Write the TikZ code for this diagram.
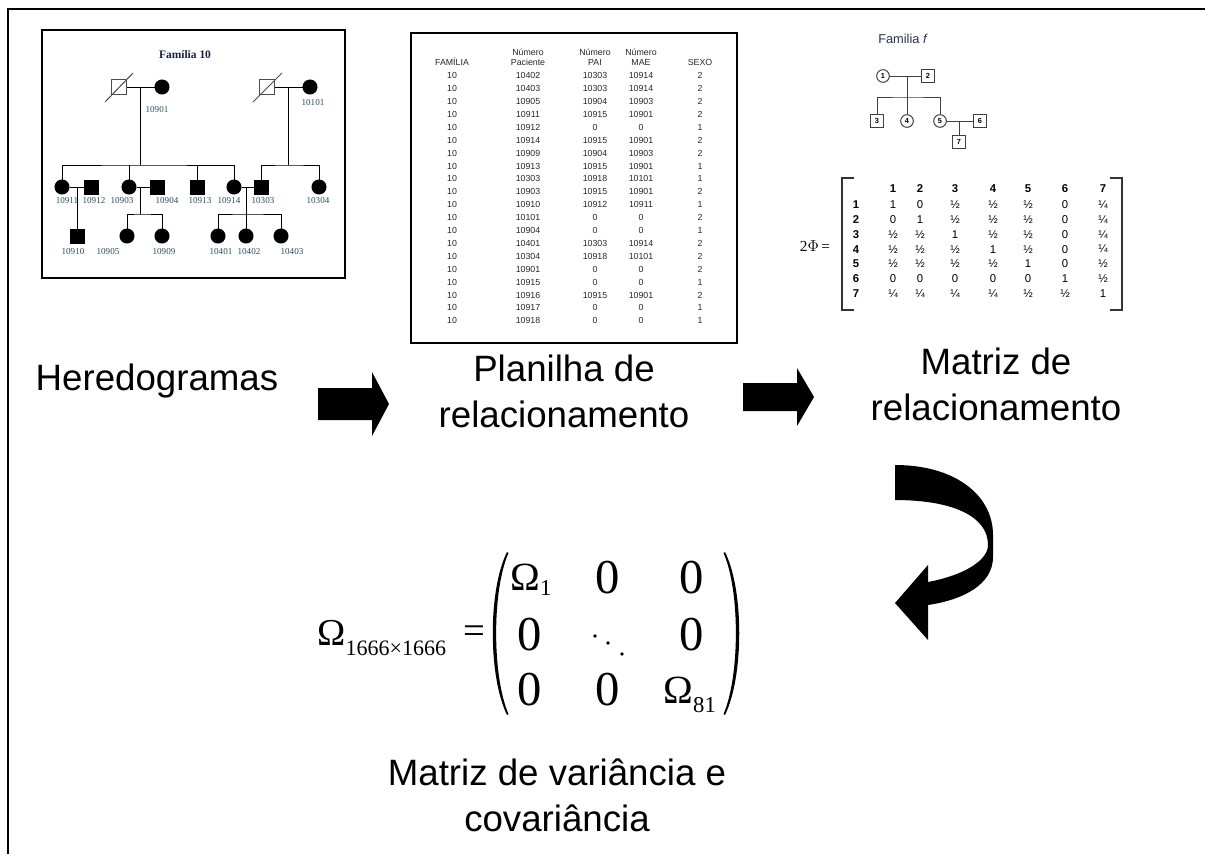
\documentclass[tikz,border=0pt]{standalone}
\usepackage{fontspec}
\setmainfont{Liberation Sans}
\newfontfamily\serifrm{Liberation Serif}
\definecolor{pedlbl}{RGB}{35,80,90}
\definecolor{titnavy}{RGB}{25,30,70}

\tikzset{every picture/.style={line width=0.75pt}}
\tikzset{
  malesym/.style={draw, fill=black, minimum size=10.5pt, inner sep=0pt},
  femsym/.style={draw, fill=black, circle, minimum size=10.5pt, inner sep=0pt},
  deadsym/.style={draw=black!70, fill=white, minimum size=11pt, inner sep=0pt},
  pedlabel/.style={font=\serifrm\fontsize{6.8}{7}\selectfont, text=pedlbl, inner sep=0.75pt},
  fmale/.style={draw=black!75, minimum size=9.5pt, inner sep=0pt, font=\bfseries\fontsize{5.5}{5.5}\selectfont},
  ffem/.style={draw=black!75, circle, minimum size=9.5pt, inner sep=0pt, font=\bfseries\fontsize{5.5}{5.5}\selectfont},
  tabtxt/.style={font=\fontsize{6.6}{7}\selectfont, inner sep=0.5pt, text=black!85},
  phitxt/.style={font=\fontsize{8.5}{9}\selectfont, inner sep=0.5pt},
  bigtxt/.style={font=\fontsize{27.5}{34.5}\selectfont, align=center, inner sep=0.75pt},
  zerotxt/.style={font=\serifrm\fontsize{36.5}{36.5}\selectfont, inner sep=0pt},
}

\begin{document}
\begin{tikzpicture}[x=0.75pt,y=0.75pt,yscale=-1,xscale=1]
\useasboundingbox (0,0) rectangle (1205,854);

%Straight Lines [outer frame]
\draw [line width=1.5pt] (8,854) -- (8,9) -- (1205,9) ;

%Shape: Rectangle [pedigree picture]
\draw [line width=1.2pt] (42,30) rectangle (345,278) ;
% Text Node
\draw (185,55) node (ttl10) [font=\serifrm\bfseries\fontsize{8.6}{9}\selectfont, text=titnavy] {Família 10};

% generation I
\node (p10915) [deadsym] at (119,87) {};
\node (p10901) [femsym] at (162,87) {};
\node (p10918) [deadsym] at (267,87) {};
\node (p10101) [femsym] at (310,87) {};
\draw [black!70] (105,102) -- (133,73) ;
\draw [black!70] (253,102) -- (282,73) ;
\coordinate (ua) at (140,87) ;
\coordinate (sa) at (140,165) ;
\coordinate (ub) at (288,87) ;
\coordinate (sb) at (288,165) ;
\draw (p10915) -- (p10901) ;
\draw (p10918) -- (p10101) ;
\draw (ua) -- (sa) ;
\draw (ub) -- (sb) ;

% generation II
\node (p10911) [femsym] at (62,187) {};
\node (p10912) [malesym] at (91,187) {};
\node (p10903) [femsym] at (129,187) {};
\node (p10904) [malesym] at (157,187) {};
\node (p10913) [malesym] at (197,187) {};
\node (p10914) [femsym] at (234,187) {};
\node (p10303) [malesym] at (261,187) {};
\node (p10304) [femsym] at (319,187) {};
\draw (p10911.north) |- (sa) -| (p10914.north) ;
\draw (p10903.north) -- (p10903.north |- sa) ;
\draw (p10913.north) -- (p10913.north |- sa) ;
\draw (p10303.north) |- (sb) -| (p10304.north) ;
\draw (p10911) -- (p10912) ;
\draw (p10903) -- (p10904) ;
\draw (p10914) -- (p10303) ;

% generation III
\node (p10910) [malesym] at (77,236) {};
\node (p10905) [femsym] at (127,236) {};
\node (p10909) [femsym] at (162,236) {};
\node (p10401) [femsym] at (218,236) {};
\node (p10402) [femsym] at (246,236) {};
\node (p10403) [femsym] at (281,236) {};
\coordinate (uc) at (77,187) ;
\coordinate (ud) at (140,187) ;
\coordinate (sd) at (140,214) ;
\coordinate (ue) at (246,187) ;
\coordinate (se) at (246,214) ;
\draw (uc) -- (p10910.north) ;
\draw (ud) -- (sd) ;
\draw (p10905.north) |- (sd) -| (p10909.north) ;
\draw (ue) -- (p10402.north) ;
\draw (p10401.north) |- (se) -| (p10403.north) ;

% Text Node
\draw (157,110) node (l10901) [pedlabel] {10901};
\draw (313,103) node (l10101) [pedlabel] {10101};
\draw (67,201) node (l10911) [pedlabel] {10911};
\draw (94,201) node (l10912) [pedlabel] {10912};
\draw (122,201) node (l10903) [pedlabel] {10903};
\draw (167,201) node (l10904) [pedlabel] {10904};
\draw (200,201) node (l10913) [pedlabel] {10913};
\draw (229,201) node (l10914) [pedlabel] {10914};
\draw (263,201) node (l10303) [pedlabel] {10303};
\draw (318,201) node (l10304) [pedlabel] {10304};
\draw (73,252) node (l10910) [pedlabel] {10910};
\draw (108,252) node (l10905) [pedlabel] {10905};
\draw (164,252) node (l10909) [pedlabel] {10909};
\draw (221,252) node (l10401) [pedlabel] {10401};
\draw (249,252) node (l10402) [pedlabel] {10402};
\draw (292,252) node (l10403) [pedlabel] {10403};

%Shape: Rectangle [relationship sheet]
\draw [line width=1.2pt] (411,33) rectangle (737,343) ;
% Text Node
\draw (452,62) node (hfam) [tabtxt] {FAMÍLIA};
\draw (528,52) node (hnum1) [tabtxt] {Número};
\draw (528,62) node (hpac) [tabtxt] {Paciente};
\draw (595,52) node (hnum2) [tabtxt] {Número};
\draw (595,62) node (hpai) [tabtxt] {PAI};
\draw (641,52) node (hnum3) [tabtxt] {Número};
\draw (641,62) node (hmae) [tabtxt] {MAE};
\draw (700,62) node (hsex) [tabtxt] {SEXO};
\foreach \pac/\pai/\mae/\sx [count=\i] in {10402/10303/10914/2, 10403/10303/10914/2,
    10905/10904/10903/2, 10911/10915/10901/2, 10912/0/0/1, 10914/10915/10901/2,
    10909/10904/10903/2, 10913/10915/10901/1, 10303/10918/10101/1, 10903/10915/10901/2,
    10910/10912/10911/1, 10101/0/0/2, 10904/0/0/1, 10401/10303/10914/2,
    10304/10918/10101/2, 10901/0/0/2, 10915/0/0/1, 10916/10915/10901/2,
    10917/0/0/1, 10918/0/0/1}{
  \draw (452,62.8+12.9*\i) node (tf\i) [tabtxt] {10};
  \draw (528,62.8+12.9*\i) node (tp\i) [tabtxt] {\pac};
  \draw (595,62.8+12.9*\i) node (ta\i) [tabtxt] {\pai};
  \draw (641,62.8+12.9*\i) node (tm\i) [tabtxt] {\mae};
  \draw (700,62.8+12.9*\i) node (ts\i) [tabtxt] {\sx};
}

% Text Node
\draw (903,39) node (ttlf) [font=\fontsize{9.6}{10}\selectfont, text={rgb,255:red,40;green,50;blue,80}] {Familia \textit{f}};
% family f
\node (f1) [ffem] at (883,76) {1};
\node (f2) [fmale] at (928,76) {2};
\node (f3) [fmale] at (877,121) {3};
\node (f4) [ffem] at (907,121) {4};
\node (f5) [ffem] at (940,121) {5};
\node (f6) [fmale] at (980,121) {6};
\node (f7) [fmale] at (959,142) {7};
\coordinate (uf) at (907,76) ;
\coordinate (sf) at (907,97) ;
\coordinate (ug) at (959,121) ;
\draw [black!75] (f1) -- (f2) ;
\draw [black!75] (uf) -- (f4) ;
\draw [black!75] (f3) |- (sf) -| (f5) ;
\draw [black!75] (f5) -- (f6) ;
\draw [black!75] (ug) -- (f7) ;

% Text Node
\draw (815,246) node (phi) [font=\serifrm\fontsize{11.5}{12}\selectfont] {2$\Phi$\,=};
%Straight Lines [brackets]
\draw [black!80, line width=1.4pt] (854,178) -- (842,178) -- (842,310) -- (854,310) ;
\draw [black!80, line width=1.4pt] (1110,178) -- (1122,178) -- (1122,310) -- (1110,310) ;
\foreach \j in {1,...,7}{
  \pgfmathsetmacro\cx{{893,920,955,993,1028,1065,1103}[\j-1]}
  \draw (\cx,189) node (ch\j) [phitxt, font=\bfseries\fontsize{8.5}{9}\selectfont] {\j};
}
\foreach \row [count=\i] in {{1,0,½,½,½,0,¼},{0,1,½,½,½,0,¼},{½,½,1,½,½,0,¼},
    {½,½,½,1,½,0,¼},{½,½,½,½,1,0,½},{0,0,0,0,0,1,½},{¼,¼,¼,¼,½,½,1}}{
  \draw (856,190.3+14.7*\i) node (rh\i) [phitxt, font=\bfseries\fontsize{8.5}{9}\selectfont] {\i};
  \foreach \v [count=\j] in \row {
    \pgfmathsetmacro\cx{{893,920,955,993,1028,1065,1103}[\j-1]}
    \draw (\cx,190.3+14.7*\i) node (m\i\j) [phitxt] {\v};
  }
}

%Shape: Right Arrow
\fill (318,388) -- (372,388) -- (372,372) -- (389,404) -- (372,436) -- (372,420) -- (318,420) -- cycle ;
%Shape: Right Arrow
\fill (743,383) -- (797,383) -- (797,368) -- (814,397) -- (797,426) -- (797,411) -- (743,411) -- cycle ;
%Shape: Curved Left Arrow
\fill (895,465) .. controls (955,465) and (993,495) .. (993,535) -- (993,557) .. controls (993,585) and (962,600) .. (928,605) -- (928,640) -- (895,603) -- (928,565) -- (928,582) .. controls (965,575) and (988,560) .. (988,545) .. controls (988,515) and (950,500) .. (895,500) -- cycle ;

% Text Node
\draw (157,381) node (hered) [bigtxt] {Heredogramas};
\draw (564,391) node (planil) [bigtxt] {Planilha de\\relacionamento};
\draw (996,384) node (matrel) [bigtxt] {Matriz de\\relacionamento};
\draw (557,795) node (matcov) [bigtxt] {Matriz de variância e\\covariância};

% Omega matrix
\draw (317,645) node (omg) [anchor=base west, inner sep=0pt, font=\serifrm\fontsize{28.5}{29}\selectfont] {Ω\raisebox{-7.5pt}{\fontsize{16.5}{17}\selectfont 1666×1666}};
\draw (474,635) node (eqs) [zerotxt, font=\serifrm\fontsize{29}{29}\selectfont] {=};
\fill (507,552) .. controls (488,590) and (488,676) .. (507,715) -- (508.5,714) .. controls (492,676) and (492,590) .. (508.5,553) -- cycle ;
\fill (725,552) .. controls (744,590) and (744,676) .. (725,715) -- (723.5,714) .. controls (740,676) and (740,590) .. (723.5,553) -- cycle ;
\draw (510,590) node (om1) [anchor=base west, inner sep=0pt, font=\serifrm\fontsize{30}{30}\selectfont] {Ω\raisebox{-4pt}{\fontsize{17}{17}\selectfont 1}};
\draw (608,578) node (z12) [zerotxt] {0};
\draw (692,578) node (z13) [zerotxt] {0};
\draw (530,635) node (z21) [zerotxt] {0};
\draw (692,635) node (z23) [zerotxt] {0};
\draw (530,690) node (z31) [zerotxt] {0};
\draw (608,690) node (z32) [zerotxt] {0};
\draw (663,703) node (om81) [anchor=base west, inner sep=0pt, font=\serifrm\fontsize{30}{30}\selectfont] {Ω\raisebox{-7pt}{\fontsize{17}{17}\selectfont 81}};
\fill (595,636) circle (1.8) (608,643) circle (1.8) (622,654) circle (1.8) ;
\end{tikzpicture}
\end{document}
